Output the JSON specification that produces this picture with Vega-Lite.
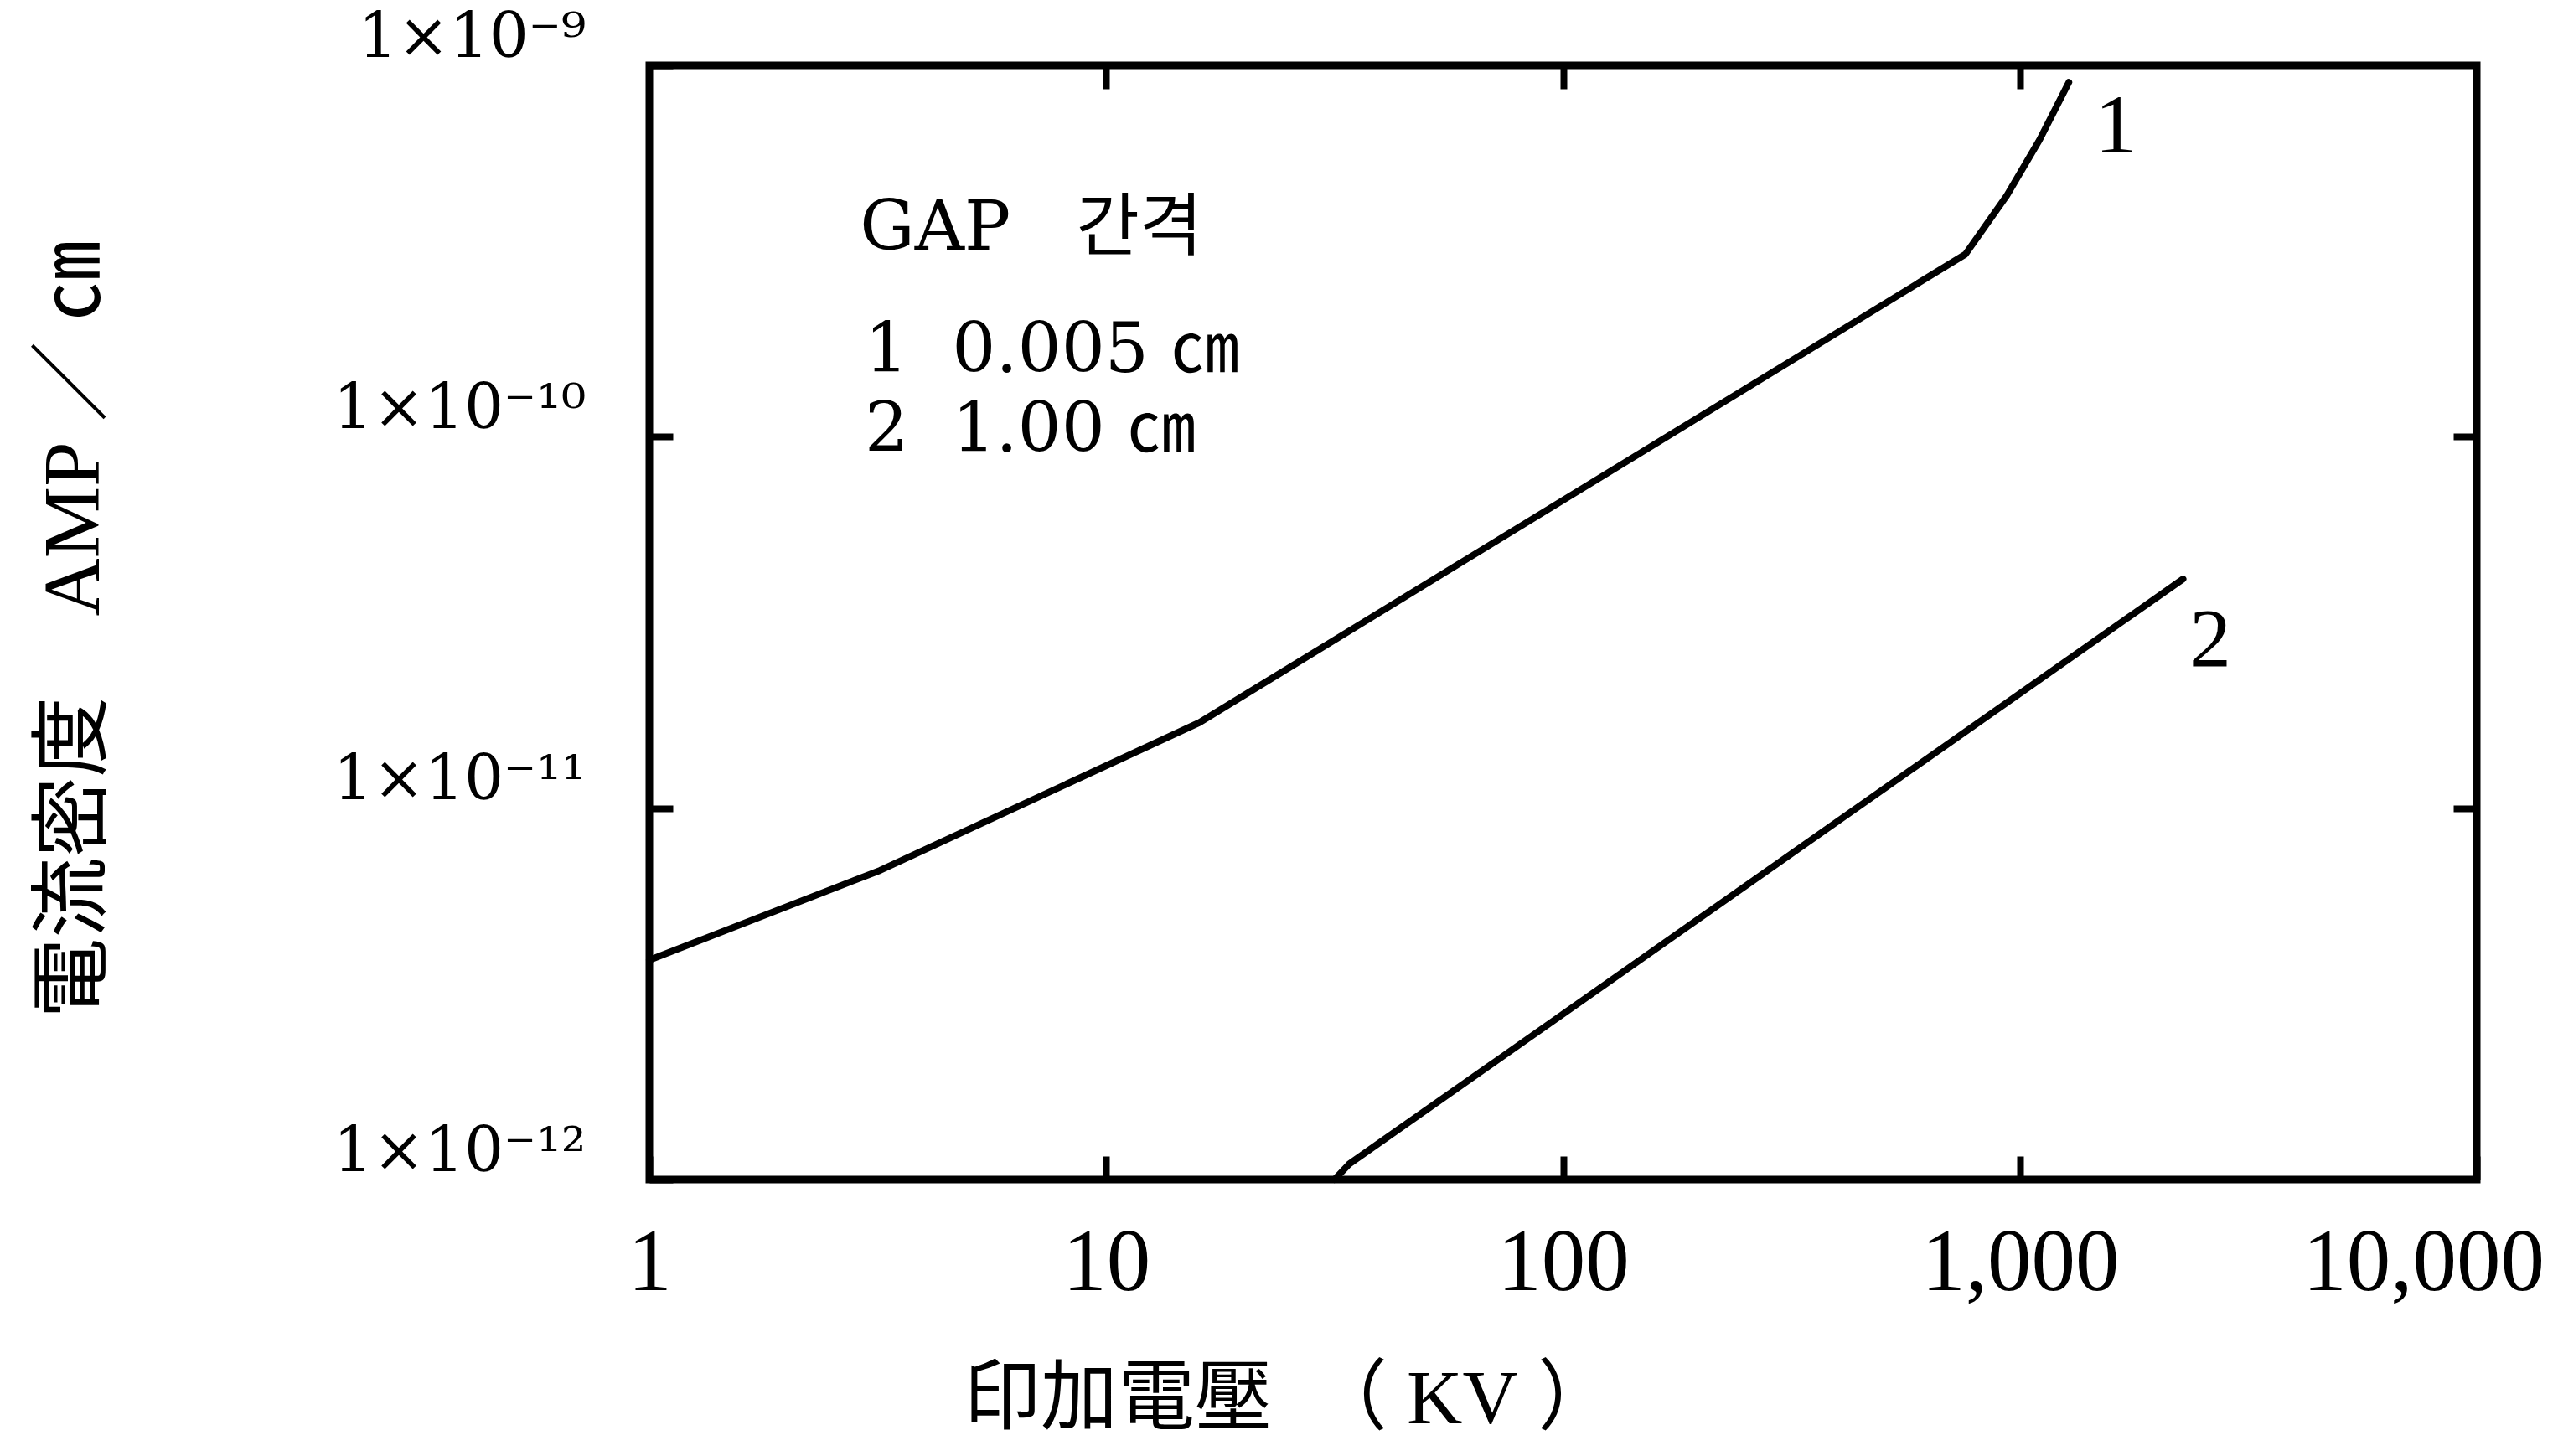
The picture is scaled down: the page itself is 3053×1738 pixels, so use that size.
{
  "$schema": "https://vega.github.io/schema/vega-lite/v6.json",
  "width": 2181,
  "height": 1330,
  "autosize": {"type": "none"},
  "padding": {"left": 775, "top": 78, "right": 97, "bottom": 330},
  "background": "white",
  "config": {
    "view": {"stroke": "black", "strokeWidth": 9},
    "font": "Liberation Serif, Noto Sans CJK KR",
    "axis": {"grid": false, "domain": false, "labelColor": "black", "titleColor": "black", "tickColor": "black", "labelLimit": 0, "titleLimit": 0}
  },
  "datasets": {
    "curves": [
      {"gap": "1", "kv": 1, "amp": 3.9e-12},
      {"gap": "1", "kv": 3.2, "amp": 6.8e-12},
      {"gap": "1", "kv": 16, "amp": 1.7e-11},
      {"gap": "1", "kv": 760, "amp": 3.1e-10},
      {"gap": "1", "kv": 936, "amp": 4.46e-10},
      {"gap": "1", "kv": 1104, "amp": 6.3e-10},
      {"gap": "1", "kv": 1280, "amp": 9.0e-10},
      {"gap": "2", "kv": 31.6, "amp": 1.0e-12},
      {"gap": "2", "kv": 34, "amp": 1.1e-12},
      {"gap": "2", "kv": 2276, "amp": 4.14e-11}
    ],
    "notes": [
      {"kv": 2.89, "amp": 3.64e-10, "label": "GAP\u00a0\u00a0\u00a0간격"},
      {"kv": 2.96, "amp": 1.7e-10, "label": "1\u00a0\u00a00.005\u00a0㎝"},
      {"kv": 2.96, "amp": 1.04e-10, "label": "2\u00a0\u00a01.00\u00a0㎝"}
    ],
    "curvelabels": [
      {"kv": 1621, "amp": 6.8e-10, "label": "1"},
      {"kv": 2611, "amp": 2.82e-11, "label": "2"}
    ]
  },
  "layer": [
    {
      "data": {"name": "curves"},
      "mark": {"type": "line", "color": "black", "strokeWidth": 8, "strokeCap": "round", "strokeJoin": "round"},
      "encoding": {
        "x": {
          "field": "kv", "type": "quantitative",
          "scale": {"type": "log", "domain": [1, 10000], "nice": false},
          "axis": {
            "orient": "bottom", "values": [1, 10, 100, 1000, 10000], "format": ",d",
            "labelFontSize": 105, "labelFont": "Liberation Serif", "labelPadding": 76, "labelFlush": false,
            "labelOffset": {"condition": {"test": "datum.value >= 10000", "value": -64}, "value": 0},
            "tickSize": -28, "tickWidth": 8,
            "title": "印加電壓\u00a0\u00a0（\u00a0KV\u00a0）", "titleFontSize": 92, "titleFontWeight": "normal",
            "titleFont": "Liberation Serif, Noto Sans CJK KR",
            "titleX": 763, "titleY": 262, "titleBaseline": "middle", "titleAlign": "center"
          }
        },
        "y": {
          "field": "amp", "type": "quantitative",
          "scale": {"type": "log", "domain": [1e-12, 1e-9], "nice": false},
          "axis": {
            "orient": "left", "values": [1e-9, 1e-10, 1e-11, 1e-12],
            "labelExpr": "round(log(datum.value)/LN10) == -9 ? '1×10⁻⁹' : round(log(datum.value)/LN10) == -10 ? '1×10⁻¹⁰' : round(log(datum.value)/LN10) == -11 ? '1×10⁻¹¹' : '1×10⁻¹²'",
            "labelFontSize": 74, "labelFont": "DejaVu Serif", "labelPadding": 104, "labelOffset": -33, "labelFlush": false,
            "tickSize": -28, "tickWidth": 8,
            "title": "電流密度\u00a0\u00a0\u00a0\u00a0AMP\u00a0／\u00a0㎝", "titleFontSize": 96, "titleFontWeight": "normal",
            "titleFont": "Liberation Serif, Noto Sans CJK KR",
            "titleX": -687, "titleY": 673, "titleAngle": 270, "titleBaseline": "middle", "titleAlign": "center"
          }
        },
        "detail": {"field": "gap"}
      }
    },
    {
      "data": {"name": "notes"},
      "mark": {"type": "text", "align": "left", "baseline": "middle", "fontSize": 82, "color": "black", "font": "DejaVu Serif, Noto Sans CJK KR"},
      "encoding": {
        "x": {
          "field": "kv", "type": "quantitative",
          "scale": {"type": "log", "domain": [1, 10000], "nice": false},
          "axis": {"orient": "top", "values": [10, 100, 1000], "labels": false, "tickSize": -28, "tickWidth": 8, "title": null}
        },
        "y": {
          "field": "amp", "type": "quantitative",
          "scale": {"type": "log", "domain": [1e-12, 1e-9], "nice": false},
          "axis": {"orient": "right", "values": [1e-10, 1e-11], "labels": false, "tickSize": -28, "tickWidth": 8, "title": null}
        },
        "text": {"field": "label"}
      }
    },
    {
      "data": {"name": "curvelabels"},
      "mark": {"type": "text", "align": "center", "baseline": "middle", "fontSize": 100, "color": "black", "font": "Liberation Serif"},
      "encoding": {
        "x": {"field": "kv", "type": "quantitative", "scale": {"type": "log", "domain": [1, 10000], "nice": false}, "axis": null},
        "y": {"field": "amp", "type": "quantitative", "scale": {"type": "log", "domain": [1e-12, 1e-9], "nice": false}, "axis": null},
        "text": {"field": "label"}
      }
    }
  ],
  "resolve": {"axis": {"x": "independent", "y": "independent"}}
}
